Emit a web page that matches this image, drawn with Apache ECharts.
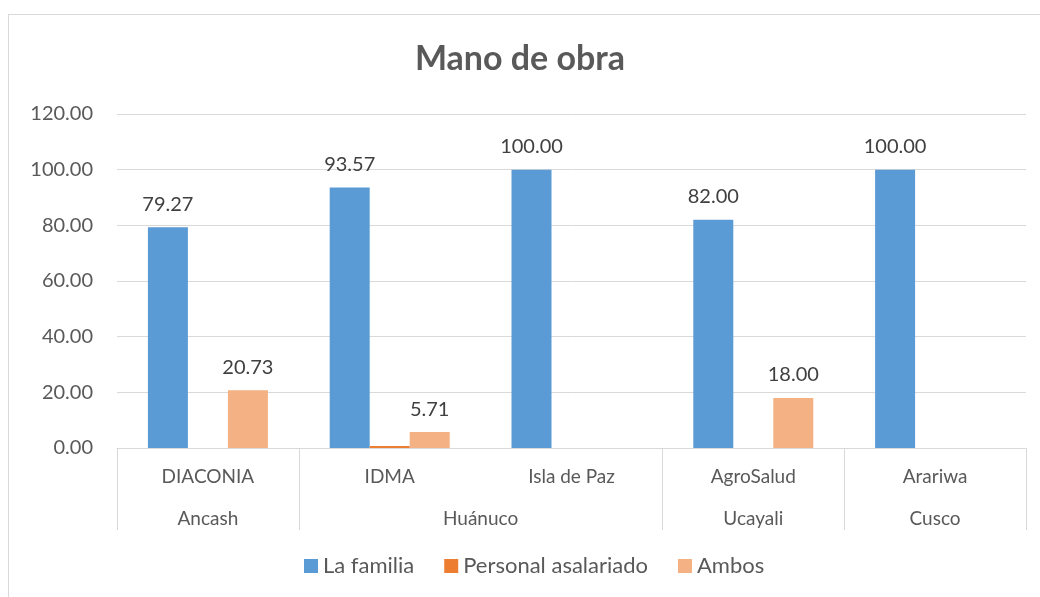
<!DOCTYPE html>
<html>
<head>
<meta charset="utf-8">
<script src="https://cdn.jsdelivr.net/npm/echarts@6/dist/echarts.min.js"></script>
<style>
  html, body { margin: 0; padding: 0; background: #fff; overflow: hidden; }
  #frame { position: absolute; left: 8px; top: 14px; width: 1100px; height: 700px; border: 1px solid #d9d9d9; }
  #chart { position: absolute; left: 0; top: 0; width: 1040px; height: 597px; }
</style>
</head>
<body>
<div id="frame"></div>
<div id="chart"></div>
<script>
  var categories = ['DIACONIA', 'IDMA', 'Isla de Paz', 'AgroSalud', 'Arariwa'];
  var regions = ['Ancash', 'Huánuco', 'Ucayali', 'Cusco'];
  var regionSpans = [1, 2, 1, 1];
  var seriesNames = ['La familia', 'Personal asalariado', 'Ambos'];
  var familia = [79.27, 93.57, 100.00, 82.00, 100.00];
  var asalariado = [0, 0.72, 0, 0, 0];
  var ambos = [20.73, 5.71, 0, 18.00, 0];
  var colors = ['#5b9bd5', '#ed7d31', '#f4b183'];
  var font = 'Lato, Open Sans, sans-serif';

  // group boundaries and centres for the second label row
  var bounds = [0], centres = [];
  regionSpans.forEach(function(s) {
    var last = bounds[bounds.length - 1];
    centres.push(last + s / 2);
    bounds.push(last + s);
  });

  var chart = echarts.init(document.getElementById('chart'), null, { renderer: 'canvas' });

  function labelFor(show) {
    return {
      show: show,
      position: 'top',
      distance: 13,
      color: '#404040',
      fontSize: 20,
      fontFamily: font,
      formatter: function(p) { return p.value ? p.value.toFixed(2) : ''; }
    };
  }

  chart.setOption({
    animation: false,
    title: {
      text: 'Mano de obra',
      left: 'center',
      top: 37,
      textStyle: { color: '#595959', fontSize: 34, fontWeight: 'bold', fontFamily: font }
    },
    legend: {
      data: seriesNames,
      bottom: 15,
      left: 299,
      itemWidth: 14,
      itemHeight: 14,
      itemGap: 30,
      icon: 'rect',
      textStyle: { color: '#595959', fontSize: 22, fontFamily: font }
    },
    grid: { left: 117, right: 14, top: 114, bottom: 149 },
    xAxis: [
      {
        type: 'category',
        data: categories,
        axisLine: { lineStyle: { color: '#d9d9d9', width: 1 } },
        axisTick: { show: false },
        axisLabel: { color: '#595959', fontSize: 19, margin: 19, fontFamily: font }
      },
      {
        type: 'value',
        position: 'bottom',
        min: 0,
        max: categories.length,
        axisLine: { show: false },
        splitLine: { show: false },
        axisTick: { show: true, customValues: bounds, length: 82, lineStyle: { color: '#d9d9d9' } },
        axisLabel: {
          customValues: centres,
          color: '#595959',
          fontSize: 19,
          margin: 61,
          fontFamily: font,
          formatter: function(v) {
            var i = centres.indexOf(v);
            return i >= 0 ? regions[i] : '';
          }
        }
      }
    ],
    yAxis: {
      type: 'value',
      min: 0,
      max: 120,
      interval: 20,
      axisLine: { show: false },
      axisTick: { show: false },
      splitLine: { lineStyle: { color: '#d9d9d9', width: 1 } },
      axisLabel: {
        color: '#595959',
        fontSize: 20,
        margin: 24,
        fontFamily: font,
        formatter: function(v) { return v.toFixed(2); }
      }
    },
    series: [
      { name: seriesNames[0], type: 'bar', data: familia, barWidth: 40, barGap: '0%', itemStyle: { color: colors[0] }, label: labelFor(true) },
      { name: seriesNames[1], type: 'bar', data: asalariado, barWidth: 40, barGap: '0%', itemStyle: { color: colors[1] }, label: labelFor(false) },
      { name: seriesNames[2], type: 'bar', data: ambos, barWidth: 40, barGap: '0%', itemStyle: { color: colors[2] }, label: labelFor(true) }
    ]
  });
  window.addEventListener('resize', function() { chart.resize(); });
</script>
</body>
</html>
